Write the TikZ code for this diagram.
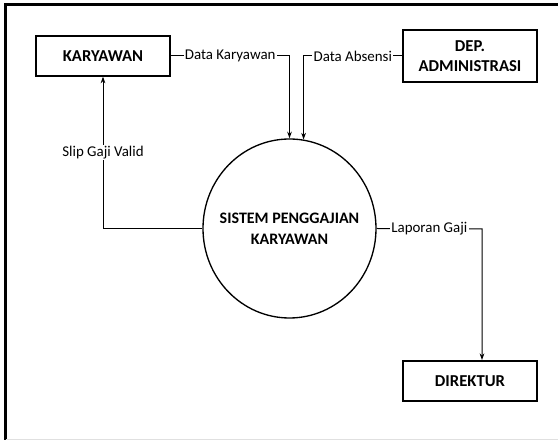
\documentclass[tikz,border=0pt]{standalone}
\usepackage{fontspec}
\setmainfont{Carlito}
\usetikzlibrary{arrows.meta,shapes.geometric}
\begin{document}
\begin{tikzpicture}[x=0.75pt,y=-0.75pt,
  entity/.style={draw,line width=1.4pt,minimum width=100.5pt,align=center,
    font=\fontsize{12.5}{14.5}\selectfont\bfseries,inner sep=0pt},
  proc/.style={draw,ellipse,line width=1pt,minimum width=129.75pt,minimum height=134.25pt,
    inner sep=0pt},
  proctext/.style={align=center,font=\fontsize{12}{15.5}\selectfont\bfseries,inner sep=0pt},
  conn/.style={line width=0.75pt,-{Stealth[length=5pt,width=3.5pt]}},
  lbl/.style={fill=white,inner sep=1pt,font=\fontsize{11.2}{12}\selectfont}]
\useasboundingbox (0,0) rectangle (558,441);
% outer frame
\draw[line width=1.8pt] (5.5,440) -- (5.5,4.5) -- (558,4.5);
\draw[line width=0.6pt,black!12] (5.5,439.5) -- (558,439.5);
% nodes
\node[entity,minimum height=29.5pt] (kar) at (103,56) {KARYAWAN};
\node[entity,minimum height=39pt] (dep) at (470,56) {DEP.\\ADMINISTRASI};
\node[entity,minimum height=30pt] (dir) at (470,381) {DIREKTUR};
\node[proc] (sys) at (289.5,228.5) {};
\node[proctext] (systext) at (sys.center) {SISTEM PENGGAJIAN\\KARYAWAN};
\coordinate (lapturn) at (482,229);
% connectors
\draw[conn] (kar.east) -- node[lbl]{Data Karyawan} (kar.east -| sys.north) -- (sys.north);
\draw[conn] (dep.west) -- node[lbl]{Data Absensi} (dep.west -| sys.81.3) -- (sys.81.3);
\draw[conn] (sys.east) -- node[lbl]{Laporan Gaji} (lapturn) -- (lapturn |- dir.north);
\draw[conn] (sys.west) -- (sys.west -| kar.south) -- node[lbl]{Slip Gaji Valid} (kar.south);
\end{tikzpicture}
\end{document}
